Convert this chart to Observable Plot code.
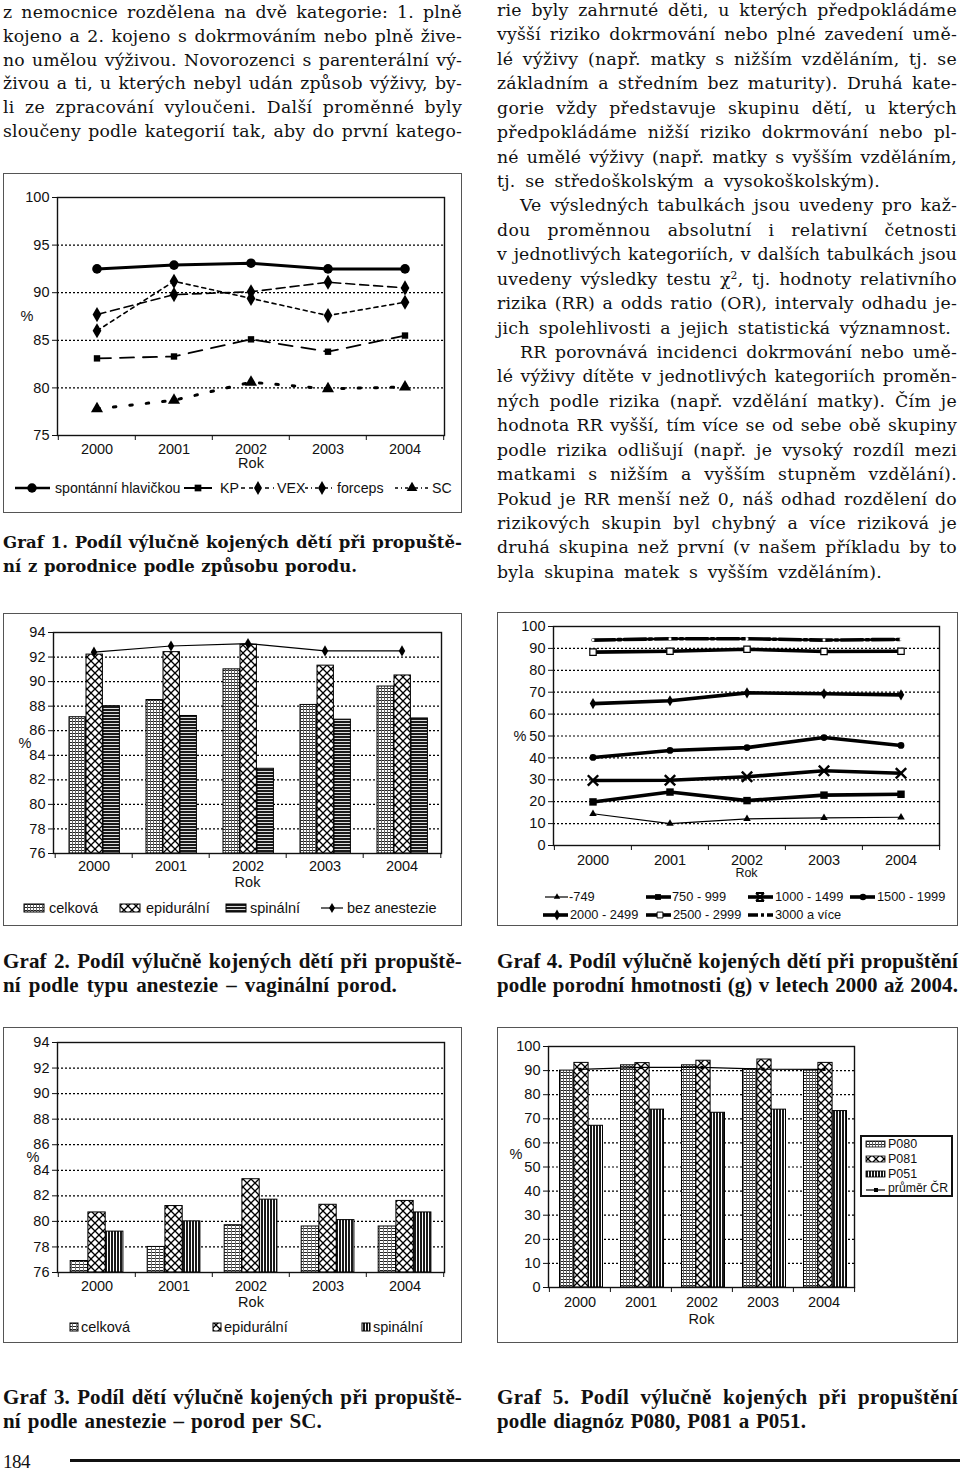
<!DOCTYPE html>
<html><head><meta charset="utf-8">
<script src="https://cdn.jsdelivr.net/npm/d3@7"></script>
<script src="https://cdn.jsdelivr.net/npm/@observablehq/plot@0.6"></script>
<style>
body{margin:0;background:#fff;}
#page{position:relative;width:960px;height:1471px;overflow:hidden;background:#fff;font-family:"DejaVu Serif",serif;color:#111;}
.ln{position:absolute;white-space:nowrap;line-height:24px;height:24px;}
.box{position:absolute;border:1.5px solid #555;box-sizing:border-box;}
.lg text{font-family:"Liberation Sans",Arial,sans-serif;fill:#111;}
</style></head>
<body>
<svg width="0" height="0" style="position:absolute;left:0;top:0">
<defs>
<pattern id="pGrid" patternUnits="userSpaceOnUse" width="3" height="3">
 <rect width="3" height="3" fill="#fff"/><rect width="3" height="1" fill="#222"/><rect width="1" height="3" fill="#666"/>
</pattern>
<pattern id="pGrid3" patternUnits="userSpaceOnUse" width="4" height="3">
 <rect width="4" height="3" fill="#fff"/><rect width="4" height="1" fill="#222"/><rect width="1" height="3" fill="#777"/>
</pattern>
<pattern id="pCross" patternUnits="userSpaceOnUse" width="8" height="8">
 <rect width="8" height="8" fill="#fff"/><path d="M0,0L8,8M8,0L0,8" stroke="#000" stroke-width="1.3"/>
</pattern>
<pattern id="pH" patternUnits="userSpaceOnUse" width="4" height="3">
 <rect width="4" height="3" fill="#1a1a1a"/><rect y="2" width="4" height="1" fill="#ddd"/>
</pattern>
<pattern id="pV" patternUnits="userSpaceOnUse" width="3" height="4">
 <rect width="3" height="4" fill="#fff"/><rect width="2" height="4" fill="#1a1a1a"/>
</pattern>
</defs></svg>
<div id="page"></div>
<script>
// ---------------- DATA ----------------
const years = ["2000", "2001", "2002", "2003", "2004"];

// Graf 1
const g1Names = ["spontánní hlavičkou", "KP", "VEX", "forceps", "SC"];
const g1Spont = [92.5, 92.9, 93.1, 92.5, 92.5];
const g1KP = [83.1, 83.3, 85.1, 83.8, 85.5];
const g1VEX = [87.7, 89.8, 90.1, 91.1, 90.5];
const g1Forceps = [86.0, 91.2, 89.4, 87.6, 89.0];
const g1SC = [77.8, 78.7, 80.6, 79.9, 80.1];
const g1Ticks = [75, 80, 85, 90, 95, 100];
const g1Grid = [80, 85, 90, 95];

// Graf 2
const g2Names = ["celková", "epidurální", "spinální", "bez anestezie"];
const g2Celkova = [87.1, 88.5, 91.0, 88.1, 89.6];
const g2Epidural = [92.2, 92.4, 93.0, 91.3, 90.5];
const g2Spinal = [88.0, 87.2, 82.9, 86.9, 87.0];
const g2Bez = [92.4, 92.9, 93.1, 92.5, 92.5];
const g2Ticks = [76, 78, 80, 82, 84, 86, 88, 90, 92, 94];
const g2Grid = [78, 80, 82, 84, 86, 88, 90, 92];

// Graf 3
const g3Names = ["celková", "epidurální", "spinální"];
const g3Celkova = [76.9, 78.0, 79.7, 79.6, 79.6];
const g3Epidural = [80.7, 81.2, 83.3, 81.3, 81.6];
const g3Spinal = [79.2, 80.0, 81.7, 80.1, 80.7];
const g3Ticks = [76, 78, 80, 82, 84, 86, 88, 90, 92, 94];
const g3Grid = [78, 80, 82, 84, 86, 88, 90, 92];

// Graf 4
const g4Names = ["-749", "750 - 999", "1000 - 1499", "1500 - 1999", "2000 - 2499", "2500 - 2999", "3000 a více"];
const g4_749 = [14.5, 10.0, 12.2, 12.6, 12.9];
const g4_750 = [19.9, 24.4, 20.5, 23.0, 23.4];
const g4_1000 = [29.7, 29.8, 31.4, 34.1, 33.0];
const g4_1500 = [40.2, 43.4, 44.7, 49.3, 45.7];
const g4_2000 = [64.8, 66.1, 69.7, 69.3, 68.8];
const g4_2500 = [88.3, 88.7, 89.6, 88.6, 88.7];
const g4_3000 = [93.8, 94.4, 94.4, 93.8, 94.1];
const g4Ticks = [0, 10, 20, 30, 40, 50, 60, 70, 80, 90, 100];
const g4Grid = [10, 20, 30, 40, 50, 60, 70, 80, 90];

// Graf 5
const g5Names = ["P080", "P081", "P051", "průměr ČR"];
const g5P080 = [90.0, 92.2, 92.2, 90.6, 90.0];
const g5P081 = [93.2, 93.1, 94.1, 94.6, 93.2];
const g5P051 = [67.1, 73.8, 72.5, 73.8, 73.2];
const g5Prumer = [90.5, 91.3, 91.3, 90.6, 90.5];
const g5Ticks = [0, 10, 20, 30, 40, 50, 60, 70, 80, 90, 100];
const g5Grid = [10, 20, 30, 40, 50, 60, 70, 80, 90];

// Text
const leftText = [
  "z nemocnice rozdělena na dvě kategorie: 1. plně",
  "kojeno a 2. kojeno s dokrmováním nebo plně žive-",
  "no umělou výživou. Novorozenci s parenterální vý-",
  "živou a ti, u kterých nebyl udán způsob výživy, by-",
  "li ze zpracování vyloučeni. Další proměnné byly",
  "sloučeny podle kategorií tak, aby do první katego-"
];
const rightText = [
  "rie byly zahrnuté děti, u kterých předpokládáme",
  "vyšší riziko dokrmování nebo plné zavedení umě-",
  "lé výživy (např. matky s nižším vzděláním, tj. se",
  "základním a středním bez maturity). Druhá kate-",
  "gorie vždy představuje skupinu dětí, u kterých",
  "předpokládáme nižší riziko dokrmování nebo pl-",
  "né umělé výživy (např. matky s vyšším vzděláním,",
  "tj. se středoškolským a vysokoškolským).",
  "Ve výsledných tabulkách jsou uvedeny pro kaž-",
  "dou proměnnou absolutní i relativní četnosti",
  "v jednotlivých kategoriích, v dalších tabulkách jsou",
  "uvedeny výsledky testu χ<sup style=\"font-size:0.62em;line-height:0;vertical-align:0.6em\">2</sup>, tj. hodnoty relativního",
  "rizika (RR) a odds ratio (OR), intervaly odhadu je-",
  "jich spolehlivosti a jejich statistická významnost.",
  "RR porovnává incidenci dokrmování nebo umě-",
  "lé výživy dítěte v jednotlivých kategoriích proměn-",
  "ných podle rizika (např. vzdělání matky). Čím je",
  "hodnota RR vyšší, tím více se od sebe obě skupiny",
  "podle rizika odlišují (např. je vysoký rozdíl mezi",
  "matkami s nižším a vyšším stupněm vzdělání).",
  "Pokud je RR menší než 0, náš odhad rozdělení do",
  "rizikových skupin byl chybný a více riziková je",
  "druhá skupina než první (v našem příkladu by to",
  "byla skupina matek s vyšším vzděláním)."
];
const captions = {
  g1: ["Graf 1. Podíl výlučně kojených dětí při propuště-", "ní z porodnice podle způsobu porodu."],
  g2: ["Graf 2. Podíl výlučně kojených dětí při propuště-", "ní podle typu anestezie – vaginální porod."],
  g3: ["Graf 3. Podíl dětí výlučně kojených při propuště-", "ní podle anestezie – porod per SC."],
  g4: ["Graf 4. Podíl výlučně kojených dětí při propuštění", "podle porodní hmotnosti (g) v letech 2000 až 2004."],
  g5: ["Graf 5. Podíl výlučně kojených při propuštění", "podle diagnóz P080, P081 a P051."]
};
const pageNumber = "184";

// ---------------- HELPERS ----------------
const page = document.getElementById("page");
const rows = vals => years.map((yr, i) => ({year: yr, value: vals[i]}));

function addLine(html, x, yc, w, o = {}) {
  const d = document.createElement("div");
  d.className = "ln";
  d.style.left = x + "px";
  d.style.top = (yc - 12) + "px";
  d.style.fontSize = (o.size || 17.3) + "px";
  if (o.font) d.style.fontFamily = o.font;
  if (o.bold) d.style.fontWeight = "bold";
  d.innerHTML = html;
  page.appendChild(d);
  const nat = d.getBoundingClientRect().width;
  const txt = d.textContent;
  const n = txt.length;
  const spaces = (txt.match(/ /g) || []).length;
  const diff = w - nat;
  if (diff >= 0) {
    const ls = Math.min(0.35, (diff * 0.35) / n);
    d.style.letterSpacing = ls + "px";
    const rest = diff - ls * n;
    if (spaces) d.style.wordSpacing = (rest / spaces) + "px";
  } else d.style.letterSpacing = (diff / n) + "px";
}

function box(l, t, r, b) {
  const d = document.createElement("div");
  d.className = "box";
  Object.assign(d.style, {left: l + "px", top: t + "px", width: (r - l) + "px", height: (b - t) + "px"});
  page.appendChild(d);
}

function place(node, l, t) {
  node.style.position = "absolute";
  node.style.left = l + "px";
  node.style.top = t + "px";
  page.appendChild(node);
}

function chart(cfg) {
  const [bl, bt, br] = cfg.box;
  const [fl, ft, fr, fb] = cfg.frame;
  const width = br - bl;
  const mb = cfg.mb;
  const height = fb - bt + mb;
  const bw = (fr - fl) / years.length;
  const svg = Plot.plot({
    width, height,
    marginLeft: fl - bl, marginRight: br - fr, marginTop: ft - bt, marginBottom: mb,
    style: {fontFamily: '"Liberation Sans", Arial, sans-serif', fontSize: "14px", background: "transparent", color: "#111", overflow: "visible"},
    x: {type: "band", domain: years, padding: 0},
    y: {domain: cfg.yDomain},
    marks: [
      Plot.gridY(cfg.grid, {stroke: "#000", strokeOpacity: 1, strokeWidth: 1.2, strokeDasharray: "2,2"}),
      ...cfg.marks(bw),
      Plot.frame({stroke: "#111", strokeWidth: 1.4}),
      Plot.axisY(cfg.yTicks, {tickSize: 5, tickPadding: 3, label: null, fontSize: 14.5}),
      Plot.axisX({tickSize: 0, tickPadding: cfg.xPad, label: null, fontSize: 14.5}),
      Plot.axisX({tickSize: 5, tickFormat: () => "", label: null, dx: -bw / 2}),
      Plot.axisX([years[years.length - 1]], {tickSize: 5, tickFormat: () => "", label: null, dx: bw / 2}),
      Plot.text(["Rok"], {text: d => d, frameAnchor: "bottom", dy: cfg.rokDy, fontSize: cfg.rokSize || 14.5}),
      Plot.text(["%"], {text: d => d, frameAnchor: "left", dx: cfg.pctDx, dy: cfg.pctDy || 0, fontSize: 14.5})
    ]
  });
  place(svg, bl, bt);
}

function bars(vals, y0, fill, bw, group, barW, i, shift = 0) {
  const off = (bw - group) / 2 + shift;
  return Plot.barY(rows(vals), {x: "year", y1: y0, y2: "value", fill, stroke: "#000", strokeWidth: 1,
    insetLeft: off + i * barW, insetRight: bw - off - (i + 1) * barW});
}

function legendSvg(l, t, w, h) {
  const s = d3.create("svg").attr("class", "lg").attr("width", w).attr("height", h).style("overflow", "visible");
  place(s.node(), l, t);
  return s;
}
const sym = (type, size) => d3.symbol(type, size)();

// ---------------- TEXT ----------------
leftText.forEach((t, i) => addLine(t, 3, 12 + i * 23.8, 459));
const rightSpec = {7: [497, 383], 8: [520, 437], 13: [497, 454], 14: [520, 437], 23: [497, 385]};
rightText.forEach((t, i) => {
  const [x, w] = rightSpec[i] || [497, 460];
  addLine(t, x, 10 + i * 24.43, w);
});

const capBold1 = {size: 16.5, bold: true};
const capBold = {size: 21, bold: true, font: '"Liberation Serif", serif'};
addLine(captions.g1[0], 3, 543, 459, capBold1);
addLine(captions.g1[1], 3, 567, 354, capBold1);
addLine(captions.g2[0], 3, 961, 459, capBold);
addLine(captions.g2[1], 3, 985, 394, capBold);
addLine(captions.g4[0], 497, 961, 461, capBold);
addLine(captions.g4[1], 497, 985, 461, capBold);
addLine(captions.g3[0], 3, 1397, 459, capBold);
addLine(captions.g3[1], 3, 1421, 319, capBold);
addLine(captions.g5[0], 497, 1397, 461, capBold);
addLine(captions.g5[1], 497, 1421, 309, capBold);
addLine(pageNumber, 3, 1462, 27, {size: 19, font: '"Liberation Serif", serif'});
const rule = document.createElement("div");
Object.assign(rule.style, {position: "absolute", left: "70px", top: "1459px", width: "890px", height: "2.5px", background: "#111"});
page.appendChild(rule);

// ---------------- GRAF 1 ----------------
box(3, 173, 462, 513);
chart({
  box: [3, 173, 462], frame: [57, 197, 444, 435], mb: 42,
  yDomain: [75, 100], yTicks: g1Ticks, grid: g1Grid, xPad: 8, rokDy: 32, pctDx: -37,
  marks: () => [
    Plot.line(rows(g1SC), {x: "year", y: "value", stroke: "#000", strokeWidth: 3, strokeDasharray: "2.5,14"}),
    Plot.dot(rows(g1SC), {x: "year", y: "value", symbol: "triangle", r: 4.5, fill: "#000"}),
    Plot.line(rows(g1Forceps), {x: "year", y: "value", stroke: "#000", strokeWidth: 1.6, strokeDasharray: "4,4"}),
    Plot.dot(rows(g1Forceps), {x: "year", y: "value", symbol: "diamond", r: 4.6, fill: "#000"}),
    Plot.line(rows(g1VEX), {x: "year", y: "value", stroke: "#000", strokeWidth: 1.6, strokeDasharray: "9,5"}),
    Plot.dot(rows(g1VEX), {x: "year", y: "value", symbol: "diamond", r: 4.6, fill: "#000"}),
    Plot.line(rows(g1KP), {x: "year", y: "value", stroke: "#000", strokeWidth: 1.8, strokeDasharray: "14,9"}),
    Plot.dot(rows(g1KP), {x: "year", y: "value", symbol: "square", r: 3.6, fill: "#000"}),
    Plot.line(rows(g1Spont), {x: "year", y: "value", stroke: "#000", strokeWidth: 3}),
    Plot.dot(rows(g1Spont), {x: "year", y: "value", symbol: "circle", r: 4.8, fill: "#000"})
  ]
});
{
  const s = legendSvg(0, 478, 462, 20), cy = 10;
  const items = [
    {x1: 15, x2: 50, m: 32, sym: d3.symbolCircle, size: 70, sw: 2.5, dash: null, tx: 55},
    {x1: 184, x2: 212, m: 198, sym: d3.symbolSquare, size: 45, sw: 2, dash: null, tx: 220},
    {x1: 241, x2: 274, m: 258, sym: d3.symbolDiamond, size: 55, sw: 1.6, dash: "4,4", tx: 277},
    {x1: 305, x2: 335, m: 322, sym: d3.symbolDiamond, size: 55, sw: 1.6, dash: "3,3,1,3", tx: 337},
    {x1: 395, x2: 430, m: 412, sym: d3.symbolTriangle, size: 50, sw: 1.6, dash: "3,3,1,3", tx: 432}
  ];
  items.forEach((it, i) => {
    s.append("line").attr("x1", it.x1).attr("x2", it.x2).attr("y1", cy).attr("y2", cy)
      .attr("stroke", "#000").attr("stroke-width", it.sw).attr("stroke-dasharray", it.dash);
    s.append("path").attr("d", sym(it.sym, it.size)).attr("transform", `translate(${it.m},${cy})`).attr("fill", "#000");
    s.append("text").attr("x", it.tx).attr("y", cy).attr("dy", "0.35em").attr("font-size", 14.2).text(g1Names[i]);
  });
}

// ---------------- GRAF 2 ----------------
box(3, 613, 462, 926);
chart({
  box: [3, 613, 462], frame: [53, 632, 441, 853], mb: 42,
  yDomain: [76, 94], yTicks: g2Ticks, grid: g2Grid, xPad: 7, rokDy: 33, pctDx: -35,
  marks: bw => [
    bars(g2Celkova, 76, "url(#pGrid)", bw, 51, 17, 0, 0.7),
    bars(g2Epidural, 76, "url(#pCross)", bw, 51, 17, 1, 0.7),
    bars(g2Spinal, 76, "url(#pH)", bw, 51, 17, 2, 0.7),
    Plot.line(rows(g2Bez), {x: "year", y: "value", stroke: "#000", strokeWidth: 1.2}),
    Plot.dot(rows(g2Bez), {x: "year", y: "value", symbol: "diamond", r: 3.4, fill: "#000"})
  ]
});
{
  const s = legendSvg(0, 898, 462, 20), cy = 10;
  const fills = ["url(#pGrid)", "url(#pCross)", "url(#pH)"];
  const sx = [24, 120, 226], tx = [49, 146, 250];
  fills.forEach((f, i) => {
    s.append("rect").attr("x", sx[i]).attr("y", cy - 4).attr("width", 20).attr("height", 8).attr("fill", f).attr("stroke", "#000");
    s.append("text").attr("x", tx[i]).attr("y", cy).attr("dy", "0.35em").attr("font-size", 14.5).text(g2Names[i]);
  });
  s.append("line").attr("x1", 321).attr("x2", 343).attr("y1", cy).attr("y2", cy).attr("stroke", "#000").attr("stroke-width", 1.2);
  s.append("path").attr("d", sym(d3.symbolDiamond, 30)).attr("transform", `translate(332,${cy})`).attr("fill", "#000");
  s.append("text").attr("x", 347).attr("y", cy).attr("dy", "0.35em").attr("font-size", 14.5).text(g2Names[3]);
}

// ---------------- GRAF 3 ----------------
box(3, 1027, 462, 1343);
chart({
  box: [3, 1027, 462], frame: [57, 1042, 444, 1272], mb: 44,
  yDomain: [76, 94], yTicks: g3Ticks, grid: g3Grid, xPad: 8, rokDy: 34, pctDx: -31,
  marks: bw => [
    bars(g3Celkova, 76, "url(#pGrid3)", bw, 53, 17.7, 0),
    bars(g3Epidural, 76, "url(#pCross)", bw, 53, 17.7, 1),
    bars(g3Spinal, 76, "url(#pV)", bw, 53, 17.7, 2)
  ]
});
{
  const s = legendSvg(0, 1317, 462, 20), cy = 10;
  const fills = ["url(#pGrid3)", "url(#pCross)", "url(#pV)"];
  const sx = [70, 213, 362], tx = [81, 224, 373];
  fills.forEach((f, i) => {
    s.append("rect").attr("x", sx[i]).attr("y", cy - 4).attr("width", 8).attr("height", 8).attr("fill", f).attr("stroke", "#000");
    s.append("text").attr("x", tx[i]).attr("y", cy).attr("dy", "0.35em").attr("font-size", 14.5).text(g3Names[i]);
  });
}

// ---------------- GRAF 4 ----------------
box(497, 612, 958, 926);
const g4Series = [g4_749, g4_750, g4_1000, g4_1500, g4_2000, g4_2500, g4_3000];
const g4Style = [
  {sw: 1.2, symbol: "triangle", r: 2.8, fill: "#000"},
  {sw: 3.6, symbol: "square", r: 4.2, fill: "#000"},
  {sw: 3.6, symbol: "times", r: 4.8, fill: "none", stroke: "#000", ssw: 2.4},
  {sw: 3.6, symbol: "circle", r: 3.4, fill: "#000"},
  {sw: 3.6, symbol: "diamond", r: 3.4, fill: "#000"},
  {sw: 3.6, symbol: "square", r: 3.6, fill: "#fff", stroke: "#000", ssw: 1.2},
  {sw: 3.6, dash: "22,3,3,3", symbol: "square", r: 1.5, fill: "#fff"}
];
chart({
  box: [497, 612, 958], frame: [553, 626, 939, 845], mb: 40,
  yDomain: [0, 100], yTicks: g4Ticks, grid: g4Grid, xPad: 9, rokDy: 31, rokSize: 12.5, pctDx: -40,
  marks: () => g4Series.flatMap((vals, i) => {
    const st = g4Style[i];
    return [
      Plot.line(rows(vals), {x: "year", y: "value", stroke: "#000", strokeWidth: st.sw, strokeDasharray: st.dash}),
      Plot.dot(rows(vals), {x: "year", y: "value", symbol: st.symbol, r: st.r, fill: st.fill, stroke: st.stroke || "none", strokeWidth: st.ssw || 1})
    ];
  })
});
{
  const s = legendSvg(480, 887, 480, 40);
  const pos = [[545, 568, 557, 569, 10], [646, 671, 658, 672, 10], [748, 773, 760, 775, 10], [850, 875, 863, 877, 10],
               [543, 568, 557, 570, 28], [646, 671, 660, 673, 28], [748, 773, 760, 775, 28]];
  const legSym = [d3.symbolTriangle, d3.symbolSquare, d3.symbolCross, d3.symbolCircle, d3.symbolDiamond, d3.symbolSquare, null];
  pos.forEach(([x1, x2, m, tx, cy], i) => {
    const st = g4Style[i];
    s.append("line").attr("x1", x1 - 480).attr("x2", x2 - 480).attr("y1", cy).attr("y2", cy)
      .attr("stroke", "#000").attr("stroke-width", st.sw).attr("stroke-dasharray", i === 6 ? "10,3,3,3" : null);
    if (i === 2) {
      s.append("path").attr("d", "M-4,-4L4,4M4,-4L-4,4M-4,-4H4M-4,4H4").attr("transform", `translate(${m - 480},${cy})`)
        .attr("stroke", "#000").attr("stroke-width", 1.8).attr("fill", "none");
    } else if (legSym[i]) {
      s.append("path").attr("d", sym(legSym[i], i === 0 ? 18 : 34)).attr("transform", `translate(${m - 480},${cy})`)
        .attr("fill", st.fill).attr("stroke", st.stroke || "none");
    }
    s.append("text").attr("x", tx - 480).attr("y", cy).attr("dy", "0.35em").attr("font-size", 12.8).text(g4Names[i]);
  });
}

// ---------------- GRAF 5 ----------------
box(497, 1027, 958, 1343);
chart({
  box: [497, 1027, 958], frame: [548, 1046, 854, 1287], mb: 46,
  yDomain: [0, 100], yTicks: g5Ticks, grid: g5Grid, xPad: 9, rokDy: 36, pctDx: -39, pctDy: -13,
  marks: bw => [
    bars(g5P080, 0, "url(#pGrid)", bw, 43.2, 14.4, 0, 1.5),
    bars(g5P081, 0, "url(#pCross)", bw, 43.2, 14.4, 1, 1.5),
    bars(g5P051, 0, "url(#pV)", bw, 43.2, 14.4, 2, 1.5),
    Plot.line(rows(g5Prumer), {x: "year", y: "value", stroke: "#000", strokeWidth: 1.2}),
    Plot.dot(rows(g5Prumer), {x: "year", y: "value", symbol: "square", r: 1.8, fill: "#000"})
  ]
});
{
  const lb = document.createElement("div");
  Object.assign(lb.style, {position: "absolute", left: "860px", top: "1135px", width: "93px", height: "62px", border: "2px solid #111", boxSizing: "border-box", background: "#fff"});
  page.appendChild(lb);
  const s = legendSvg(860, 1135, 93, 62);
  const ys = [9, 24, 39, 53];
  const fills = ["url(#pGrid)", "url(#pCross)", "url(#pV)"];
  fills.forEach((f, i) => {
    s.append("rect").attr("x", 6).attr("y", ys[i] - 3).attr("width", 19).attr("height", 6).attr("fill", f).attr("stroke", "#000").attr("stroke-width", 0.8);
  });
  s.append("line").attr("x1", 6).attr("x2", 25).attr("y1", ys[3] + 2).attr("y2", ys[3] + 2).attr("stroke", "#000").attr("stroke-width", 1.2);
  s.append("rect").attr("x", 14).attr("y", ys[3]).attr("width", 4).attr("height", 4).attr("fill", "#000");
  g5Names.forEach((n, i) => s.append("text").attr("x", 28).attr("y", ys[i]).attr("dy", "0.35em")
    .attr("font-size", 12.5).attr("textLength", i === 3 ? 60 : null).attr("lengthAdjust", "spacingAndGlyphs").text(n));
}
</script>
</body></html>
